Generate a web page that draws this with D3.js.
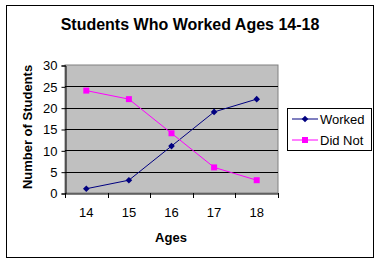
<!DOCTYPE html>
<html>
<head>
<meta charset="utf-8">
<script src="https://cdn.jsdelivr.net/npm/d3@7"></script>
<style>
  body { margin: 0; background: #fff; }
  text { font-family: Arial, "Liberation Sans", sans-serif; }
</style>
</head>
<body>
<svg></svg>
<script>
var width = 380;
var height = 263;

// data
var ages = ["14", "15", "16", "17", "18"];
var worked = [1, 3, 11, 19, 22];
var didNot = [24, 22, 14, 6, 3];
var yTicks = [0, 5, 10, 15, 20, 25, 30];
var seriesNames = ["Worked", "Did Not"];

var svg = d3.select("svg")
    .attr("width", width)
    .attr("height", height);

// outer frame
svg.append("rect")
    .attr("x", 6.5).attr("y", 5.5)
    .attr("width", 367).attr("height", 252)
    .attr("fill", "#fff")
    .attr("stroke", "#000")
    .attr("stroke-width", 1);

var plotL = 65, plotR = 278, plotT = 65, plotB = 193;

var x = d3.scaleBand().domain(ages).range([plotL, plotR]);
var y = d3.scaleLinear().domain([0, 30]).range([plotB, plotT]);

// plot background
svg.append("rect")
    .attr("x", plotL).attr("y", plotT)
    .attr("width", plotR - plotL).attr("height", plotB - plotT)
    .attr("fill", "#c0c0c0")
    .attr("stroke", "#808080");

// grid lines
svg.append("g")
    .selectAll("line")
    .data(yTicks.filter(function(d){ return d > 0 && d < 30; }))
    .enter()
    .append("line")
    .attr("x1", plotL).attr("x2", plotR)
    .attr("y1", function(d){ return Math.round(y(d)) + 0.5; })
    .attr("y2", function(d){ return Math.round(y(d)) + 0.5; })
    .attr("stroke", "#000");

// y axis
var yAxis = svg.append("g")
    .attr("transform", "translate(" + (plotL + 0.5) + ",0.5)")
    .call(d3.axisLeft(y).tickValues(yTicks).tickSize(4).tickPadding(4));
yAxis.selectAll("text")
    .attr("font-size", 13)
    .attr("fill", "#000")
    .style("font-family", "Arial, 'Liberation Sans', sans-serif");

// x axis
var xAxis = svg.append("g")
    .attr("transform", "translate(0," + (plotB + 0.5) + ")")
    .call(d3.axisBottom(x).tickSize(0).tickPadding(14));
xAxis.selectAll("text")
    .attr("font-size", 13)
    .attr("fill", "#000")
    .style("font-family", "Arial, 'Liberation Sans', sans-serif");
// category boundary ticks
svg.append("g")
    .selectAll("line")
    .data(ages.concat(["end"]))
    .enter()
    .append("line")
    .attr("x1", function(d, i){ return Math.round(plotL + i * x.bandwidth()) + 0.5; })
    .attr("x2", function(d, i){ return Math.round(plotL + i * x.bandwidth()) + 0.5; })
    .attr("y1", plotB)
    .attr("y2", plotB + 5)
    .attr("stroke", "#000");

// series
var colors = ["#000080", "#ff00ff"];
var seriesData = [worked, didNot];

var line = d3.line()
    .x(function(d, i){ return x(ages[i]) + x.bandwidth() / 2; })
    .y(function(d){ return y(d); });

function marker(s) {
    // diamond = square turned 45 degrees
    return d3.symbol().type(d3.symbolSquare).size(s == 0 ? 22 : 36)();
}

seriesData.forEach(function(vals, s) {
    svg.append("path")
        .datum(vals)
        .attr("d", line)
        .attr("fill", "none")
        .attr("stroke", colors[s])
        .attr("stroke-width", 1);
    svg.append("g")
        .selectAll("path")
        .data(vals)
        .enter()
        .append("path")
        .attr("transform", function(d, i){
            return "translate(" + (x(ages[i]) + x.bandwidth() / 2) + "," + y(d) + ")" + (s == 0 ? " rotate(45)" : "");
        })
        .attr("d", marker(s))
        .attr("fill", colors[s]);
});

// title
svg.append("text")
    .attr("x", 190).attr("y", 30)
    .attr("text-anchor", "middle")
    .attr("font-size", 16)
    .attr("font-weight", "bold")
    .text("Students Who Worked Ages 14-18");

// axis titles
svg.append("text")
    .attr("x", 171).attr("y", 242)
    .attr("text-anchor", "middle")
    .attr("font-size", 13)
    .attr("font-weight", "bold")
    .text("Ages");

svg.append("text")
    .attr("transform", "translate(32,127) rotate(-90)")
    .attr("text-anchor", "middle")
    .attr("font-size", 13)
    .attr("font-weight", "bold")
    .text("Number of Students");

// legend
var lg = svg.append("g").attr("transform", "translate(287,108)");
lg.append("rect")
    .attr("x", 0.5).attr("y", 0.5)
    .attr("width", 84).attr("height", 42)
    .attr("fill", "#fff")
    .attr("stroke", "#000");

var entries = lg.selectAll("g.legend")
    .data(seriesNames)
    .enter()
    .append("g")
    .attr("class", "legend")
    .attr("transform", function(d, i){ return "translate(0," + (11 + i * 21) + ")"; });

entries.append("line")
    .attr("x1", 5).attr("x2", 31)
    .attr("y1", 0).attr("y2", 0)
    .attr("stroke", function(d, i){ return colors[i]; });
entries.append("path")
    .attr("transform", function(d, i){ return "translate(18,0)" + (i == 0 ? " rotate(45)" : ""); })
    .attr("d", function(d, i){ return marker(i); })
    .attr("fill", function(d, i){ return colors[i]; });
entries.append("text")
    .attr("x", 33).attr("y", 4.5)
    .attr("font-size", 13)
    .text(function(d){ return d; });
</script>
</body>
</html>
